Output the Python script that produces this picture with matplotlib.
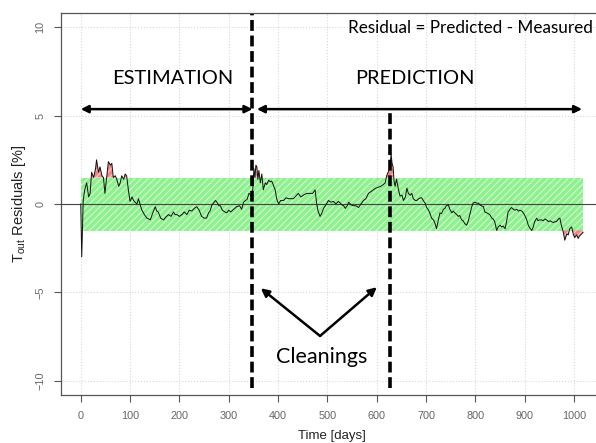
import matplotlib
matplotlib.use("Agg")
import matplotlib.pyplot as plt
import numpy as np

# residual series (days, %)
days = [0, 2, 4, 5, 8, 12, 16, 19, 22, 26, 30, 32, 36, 39, 43, 46, 49, 53, 56, 60,
        63, 66, 70, 73, 77, 80, 83, 87, 90, 93, 97, 100, 104, 107, 110, 114, 117, 121, 124, 129,
        134, 138, 141, 146, 151, 154, 157, 162, 168, 172, 178, 183, 188, 191, 195, 200, 205, 210, 215, 220,
        225, 230, 235, 240, 245, 250, 255, 259, 262, 266, 269, 273, 276, 280, 283, 287, 292, 296, 300, 304,
        310, 316, 322, 326, 330, 334, 337, 341, 344, 347, 349, 351, 353, 355, 357, 359, 361, 364, 367, 370,
        374, 377, 381, 384, 387, 390, 394, 397, 401, 405, 411, 416, 421, 426, 431, 436, 441, 446, 451, 458,
        465, 470, 475, 478, 481, 485, 488, 492, 497, 502, 507, 512, 517, 522, 526, 529, 533, 536, 540, 543,
        548, 553, 558, 563, 568, 573, 578, 583, 588, 593, 598, 603, 608, 613, 617, 620, 623, 626, 629, 631,
        633, 635, 637, 640, 644, 647, 651, 654, 658, 661, 664, 668, 671, 674, 678, 681, 685, 688, 691, 694,
        698, 701, 705, 708, 711, 715, 718, 721, 724, 728, 731, 735, 738, 741, 745, 748, 752, 755, 758, 762,
        765, 768, 772, 775, 778, 782, 785, 789, 792, 795, 799, 802, 806, 809, 812, 816, 819, 823, 826, 829,
        833, 836, 839, 843, 846, 850, 853, 856, 860, 863, 866, 870, 873, 877, 880, 884, 887, 890, 894, 897,
        900, 904, 907, 910, 914, 917, 920, 924, 927, 930, 934, 937, 941, 944, 948, 951, 954, 958, 961, 964,
        968, 971, 974, 978, 981, 985, 988, 991, 995, 998, 1001, 1005, 1008, 1011, 1015, 1018]
residuals = [0.0, -3.0, -1.0, 0.2, 0.8, 1.2, 0.4, 0.6, 1.8, 1.5, 2.0, 2.5, 1.8, 2.1, 1.6, 1.5, 0.6, 1.6, 2.4, 2.2,
             2.3, 1.5, 1.6, 1.4, 1.0, 1.2, 1.6, 1.4, 1.7, 1.6, 0.7, 0.15, 0.4, 0.2, 0.1, 0.0, 0.3, -0.1, -0.35, -0.6,
             -0.8, -0.85, -0.9, -0.5, -0.15, -0.4, -0.45, -0.8, -0.9, -0.75, -0.6, -0.7, -0.45, -0.6, -0.6, -0.7, -0.6, -0.45, -0.6, -0.35,
             -0.4, -0.25, -0.15, -0.35, -0.7, -0.8, -0.8, -0.5, -0.4, -0.05, 0.05, 0.2, 0.1, -0.1, -0.1, -0.35, -0.45, -0.5, -0.35, -0.45,
             -0.3, -0.15, -0.1, -0.3, 0.1, 0.2, 0.25, 0.6, 0.55, 0.2, 1.0, 2.0, 1.5, 2.2, 2.1, 1.4, 1.9, 1.2, 1.7, 0.8,
             1.2, 1.1, 1.35, 1.25, 1.3, 1.1, 0.8, 0.3, 0.0, 0.2, 0.2, 0.35, 0.3, 0.3, 0.3, 0.45, 0.6, 0.4, 0.5, 0.6,
             0.6, 0.6, 0.8, 0.05, -0.4, -0.7, -0.55, -0.25, -0.05, 0.2, 0.1, 0.15, 0.0, 0.15, 0.05, -0.05, -0.1, -0.25, -0.1, 0.1,
             -0.05, -0.1, -0.1, -0.2, 0.0, 0.2, 0.3, 0.6, 0.7, 0.8, 0.9, 0.95, 1.0, 1.1, 1.2, 1.6, 1.8, 2.0, 2.8, 2.3,
             2.1, 1.3, 1.0, 1.4, 0.8, 0.45, 0.5, 0.2, 0.4, 0.9, 0.6, 0.5, 0.6, 0.3, 0.2, 0.2, 0.3, 0.35, 0.35, 0.2,
             0.05, -0.2, -0.35, -0.55, -0.8, -0.9, -1.1, -1.4, -1.0, -0.5, -0.55, -0.3, -0.25, -0.1, -0.05, -0.3, -0.5, -0.4, -0.5, -0.6,
             -0.7, -0.65, -0.9, -0.95, -1.1, -1.2, -1.0, -0.55, -0.2, 0.05, 0.1, 0.05, 0.05, -0.05, -0.1, -0.15, -0.45, -0.5, -0.55, -0.6,
             -0.8, -0.85, -1.0, -1.5, -1.3, -1.2, -1.3, -1.25, -1.4, -1.0, -0.45, -0.3, -0.2, -0.3, -0.35, -0.3, -0.4, -0.35, -0.4, -0.5,
             -0.65, -0.9, -1.2, -1.35, -1.5, -1.3, -1.0, -0.8, -0.95, -0.9, -0.9, -0.95, -0.85, -0.9, -1.0, -0.95, -1.0, -1.05, -1.0, -1.0,
             -0.85, -0.8, -1.2, -1.6, -2.05, -1.7, -1.75, -1.4, -1.3, -1.7, -1.9, -1.75, -1.95, -1.8, -1.7, -1.6]

band_limit = 1.5
cleaning_days = [348, 627]
x_ticks = [0, 100, 200, 300, 400, 500, 600, 700, 800, 900, 1000]
y_ticks = [-10, -5, 0, 5, 10]

days = np.array(days)
residuals = np.array(residuals)

plt.rcParams['hatch.linewidth'] = 0.9
fig = plt.figure(figsize=(5.96, 4.43), dpi=100)
ax = fig.add_axes([0.1017, 0.1088, 0.912, 0.8614])

ax.set_xlim(-40.8, 1060.8)
ax.set_ylim(-10.8, 10.8)

ax.grid(True, color='#d8d8d8', linestyle=':', linewidth=0.8)
ax.set_axisbelow(True)

# tolerance band
ax.fill_between([days[0], days[-1]], -band_limit, band_limit,
                facecolor='#8ff08f', edgecolor='#c8fac8', hatch='/////', linewidth=0, zorder=2)

# out-of-band parts in red
ax.fill_between(days, band_limit, residuals, where=residuals > band_limit, interpolate=True,
                facecolor='#f08585', edgecolor='#f8c4c4', hatch='/////', linewidth=0, zorder=3)
ax.fill_between(days, -band_limit, residuals, where=residuals < -band_limit, interpolate=True,
                facecolor='#f08585', edgecolor='#f8c4c4', hatch='/////', linewidth=0, zorder=3)

ax.axhline(0, color='#444444', linewidth=0.8, zorder=3)
ax.plot(days, residuals, color='#111111', linewidth=0.7, zorder=4)

# cleaning events
ax.vlines(cleaning_days[0], -10.4, 10.75, colors='black', linewidth=2.6,
          linestyles=(0, (3, 1.3)), zorder=5)
ax.vlines(cleaning_days[1], -10.4, 5.2, colors='black', linewidth=2.6,
          linestyles=(0, (3, 1.3)), zorder=5)

# phase arrows
arrow_kw = dict(arrowstyle='<|-|>', color='black', lw=1.8, mutation_scale=11,
                shrinkA=0, shrinkB=0)
ax.annotate('', xy=(0, 5.37), xytext=(cleaning_days[0], 5.37), arrowprops=arrow_kw)
ax.annotate('', xy=(357, 5.37), xytext=(1016, 5.37), arrowprops=arrow_kw)

txt_font = ['Lato', 'DejaVu Sans']
ax.text(187, 7.08, 'ESTIMATION', fontsize=14.4, family=txt_font, ha='center', va='center')
ax.text(678, 7.08, 'PREDICTION', fontsize=14.4, family=txt_font, ha='center', va='center')
ax.text(789, 9.95, 'Residual = Predicted - Measured', fontsize=12.3, family=txt_font,
        ha='center', va='center')
ax.text(488, -8.66, 'Cleanings', fontsize=15.5, family=txt_font, ha='center', va='center')

clean_kw = dict(arrowstyle='-|>', color='black', lw=1.8, mutation_scale=12,
                shrinkA=0, shrinkB=0)
ax.annotate('', xy=(365, -4.77), xytext=(485, -7.47), arrowprops=clean_kw)
ax.annotate('', xy=(600, -4.71), xytext=(485, -7.47), arrowprops=clean_kw)

# axes styling (R-like)
ax.set_xticks(x_ticks)
ax.set_yticks(y_ticks)
ax.tick_params(axis='both', colors='#555555', labelcolor='#666666', labelsize=7.8,
               length=5, width=0.8)
ax.tick_params(axis='x', pad=7)
ax.tick_params(axis='y', pad=6, labelrotation=90)
for lbl in ax.get_yticklabels():
    lbl.set_va('center')
    lbl.set_family('Liberation Sans')
for lbl in ax.get_xticklabels():
    lbl.set_family('Liberation Sans')
for side in ['left', 'bottom', 'top']:
    ax.spines[side].set_color('#555555')
    ax.spines[side].set_linewidth(0.9)
ax.spines['right'].set_visible(False)

ax.set_xlabel('Time [days]', fontsize=9.5, family='Liberation Sans', color='#222222', labelpad=6)
ax.set_ylabel('T$_{\\mathregular{out}}$ Residuals [%]', fontsize=10.5, family='Liberation Sans',
              color='#222222', labelpad=5)

fig.savefig('out.png', dpi=100)
